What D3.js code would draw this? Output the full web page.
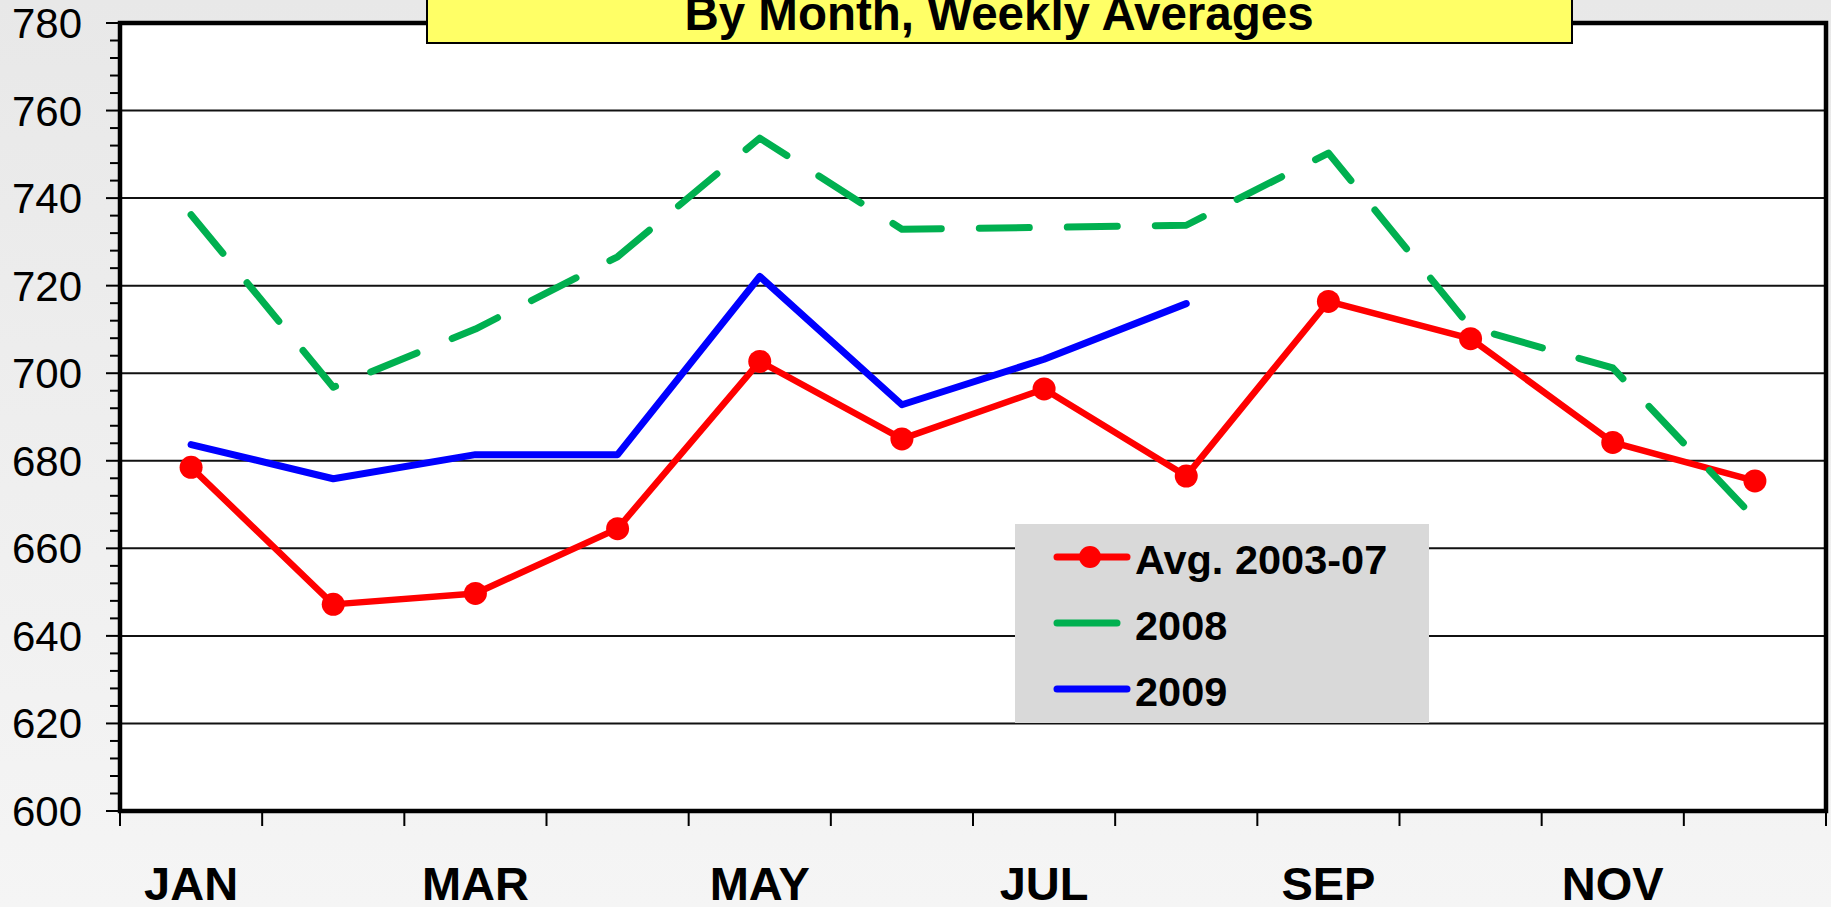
<!DOCTYPE html>
<html>
<head>
<meta charset="utf-8">
<script src="https://cdn.jsdelivr.net/npm/d3@7"></script>
<style>
  html, body { margin: 0; padding: 0; overflow: hidden; }
  body { width: 1831px; height: 907px; font-family: "Liberation Sans", Arial, sans-serif; }
</style>
</head>
<body>
<div id="chart"></div>
<script>
// data
var months = ["JAN","FEB","MAR","APR","MAY","JUN","JUL","AUG","SEP","OCT","NOV","DEC"];
var avg0307 = [678.5, 647.2, 649.7, 664.5, 702.7, 685.0, 696.4, 676.5, 716.4, 707.9, 684.2, 675.4];
var y2008 = [736.2, 696.8, 710.1, 726.6, 753.7, 732.9, 733.3, 733.8, 750.3, 710.5, 701.2, 666.8];
var y2009 = [683.7, 675.9, 681.4, 681.4, 722.1, 692.8, 703.2, 715.9];
var yTicks = [600, 620, 640, 660, 680, 700, 720, 740, 760, 780];
var seriesNames = ["Avg. 2003-07", "2008", "2009"];
var titleText = "By Month, Weekly Averages";

var W = 1831, H = 907;
var plotL = 120, plotR = 1826, plotT = 23, plotB = 811;

var svg = d3.select("#chart").append("svg")
  .attr("width", W).attr("height", H);

var defs = svg.append("defs");
var grad = defs.append("linearGradient").attr("id", "bg")
  .attr("x1", 0).attr("y1", 0).attr("x2", 0).attr("y2", 1);
grad.append("stop").attr("offset", "0%").attr("stop-color", "#e8e8e8");
grad.append("stop").attr("offset", "100%").attr("stop-color", "#f5f5f5");

svg.append("rect").attr("width", W).attr("height", H).attr("fill", "url(#bg)");

var x = d3.scaleBand().domain(months).range([plotL, plotR]);
var xb = d3.scaleLinear().domain([0, 12]).range([plotL, plotR]);
var y = d3.scaleLinear().domain([600, 780]).range([plotB, plotT]);

function cx(d, i){ return x(months[i]) + x.bandwidth() / 2; }

// plot area
svg.append("rect")
  .attr("x", plotL).attr("y", plotT)
  .attr("width", plotR - plotL).attr("height", plotB - plotT)
  .attr("fill", "#fff");

// gridlines
svg.append("g").selectAll("line")
  .data(yTicks.slice(1, -1))
  .enter().append("line")
  .attr("x1", plotL).attr("x2", plotR)
  .attr("y1", function(d){ return y(d); })
  .attr("y2", function(d){ return y(d); })
  .attr("stroke", "#111")
  .attr("stroke-width", 2);

// y axis: minor and major ticks
var minor = d3.range(600, 781, 4);
svg.append("g").selectAll("line")
  .data(minor)
  .enter().append("line")
  .attr("x1", function(d){ return (d % 20 == 0) ? plotL - 14 : plotL - 10; })
  .attr("x2", plotL)
  .attr("y1", function(d){ return y(d); })
  .attr("y2", function(d){ return y(d); })
  .attr("stroke", "#000")
  .attr("stroke-width", 2);

svg.append("g").selectAll("text")
  .data(yTicks)
  .enter().append("text")
  .attr("x", 82)
  .attr("y", function(d){ return y(d) + 15; })
  .attr("text-anchor", "end")
  .attr("font-size", 42)
  .attr("fill", "#000")
  .text(function(d){ return d; });

// x axis ticks at month boundaries
svg.append("g").selectAll("line")
  .data(d3.range(0, 13))
  .enter().append("line")
  .attr("x1", function(d){ return xb(d); })
  .attr("x2", function(d){ return xb(d); })
  .attr("y1", plotB)
  .attr("y2", plotB + 15)
  .attr("stroke", "#000")
  .attr("stroke-width", 2);

svg.append("g").selectAll("text")
  .data(months.filter(function(d, i){ return i % 2 == 0; }))
  .enter().append("text")
  .attr("x", function(d){ return x(d) + x.bandwidth() / 2; })
  .attr("y", 900)
  .attr("text-anchor", "middle")
  .attr("font-size", 47)
  .attr("font-weight", "bold")
  .attr("fill", "#000")
  .text(function(d){ return d; });

// series
var line = d3.line()
  .x(cx)
  .y(function(d){ return y(d); });

svg.append("path")
  .datum(avg0307)
  .attr("d", line)
  .attr("fill", "none")
  .attr("stroke", "#ff0000")
  .attr("stroke-width", 6.5)
  .attr("stroke-linejoin", "round");

svg.append("g").selectAll("circle")
  .data(avg0307)
  .enter().append("circle")
  .attr("cx", cx)
  .attr("cy", function(d){ return y(d); })
  .attr("r", 11.5)
  .attr("fill", "#ff0000");

svg.append("path")
  .datum(y2008)
  .attr("d", line)
  .attr("fill", "none")
  .attr("stroke", "#00b050")
  .attr("stroke-width", 7)
  .attr("stroke-dasharray", "50,38")
  .attr("stroke-linecap", "round")
  .attr("stroke-linejoin", "round");

svg.append("path")
  .datum(y2009)
  .attr("d", line)
  .attr("fill", "none")
  .attr("stroke", "#0000ff")
  .attr("stroke-width", 7)
  .attr("stroke-linecap", "round")
  .attr("stroke-linejoin", "round");

// plot border
svg.append("rect")
  .attr("x", plotL).attr("y", plotT)
  .attr("width", plotR - plotL).attr("height", plotB - plotT)
  .attr("fill", "none")
  .attr("stroke", "#000")
  .attr("stroke-width", 4.5);

// legend
var lg = svg.append("g").attr("transform", "translate(1015,524)");
lg.append("rect").attr("width", 414).attr("height", 199).attr("fill", "#d9d9d9");

var legendItems = [
  {name: seriesNames[0], color: "#ff0000", x2: 112, marker: true},
  {name: seriesNames[1], color: "#00b050", x2: 102, marker: false},
  {name: seriesNames[2], color: "#0000ff", x2: 112, marker: false}
];
legendItems.forEach(function(it, i){
  var ly = 33 + i * 66;
  lg.append("line")
    .attr("x1", 42).attr("x2", it.x2)
    .attr("y1", ly).attr("y2", ly)
    .attr("stroke", it.color)
    .attr("stroke-width", 7)
    .attr("stroke-linecap", "round");
  if(it.marker){
    lg.append("circle").attr("cx", 75).attr("cy", ly).attr("r", 11).attr("fill", it.color);
  }
  lg.append("text")
    .attr("x", 120).attr("y", ly + 17)
    .attr("font-size", 41.5)
    .attr("font-weight", "bold")
    .attr("fill", "#000")
    .text(it.name);
});

// title box, cut off at the top
svg.append("rect")
  .attr("x", 427).attr("y", -40)
  .attr("width", 1145).attr("height", 83)
  .attr("fill", "#ffff66")
  .attr("stroke", "#000")
  .attr("stroke-width", 2);

svg.append("text")
  .attr("x", 999).attr("y", 30)
  .attr("text-anchor", "middle")
  .attr("font-size", 47.5)
  .attr("font-weight", "bold")
  .attr("fill", "#000")
  .text(titleText);
</script>
</body>
</html>
